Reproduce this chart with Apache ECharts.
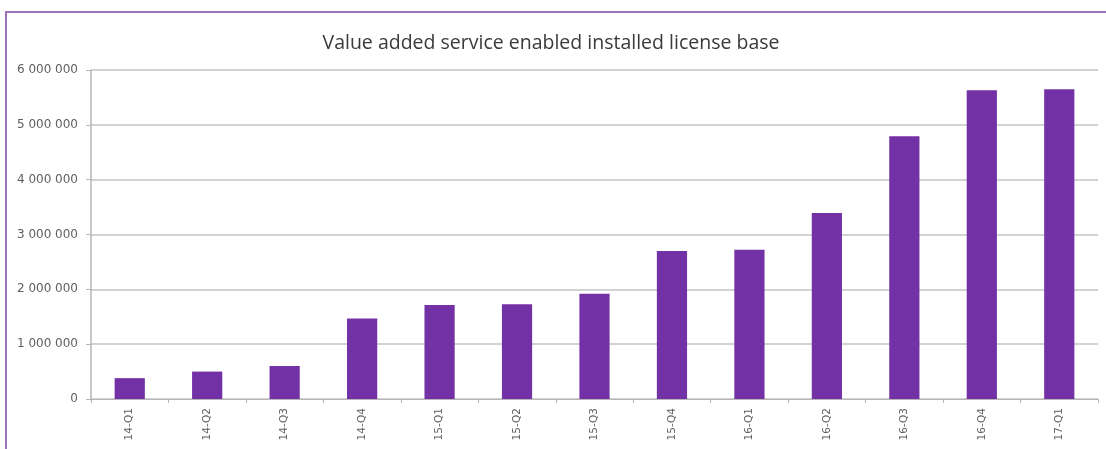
<!DOCTYPE html>
<html><head><meta charset="utf-8">
<script src="https://cdn.jsdelivr.net/npm/echarts@6/dist/echarts.min.js"></script>
<style>
html,body{margin:0;padding:0;background:#fff;}
#frame{position:absolute;left:5px;top:11px;width:1101px;height:438px;border-top:2px solid #9a72b8;border-left:2px solid #9a72b8;box-sizing:border-box;}
#chart{position:absolute;left:0;top:0;width:1106px;height:449px;}
</style></head>
<body>
<div id="frame"></div>
<div id="chart"></div>
<script>
const titleText = "Value added service enabled installed license base";
const categories = ["14-Q1","14-Q2","14-Q3","14-Q4","15-Q1","15-Q2","15-Q3","15-Q4","16-Q1","16-Q2","16-Q3","16-Q4","17-Q1"];
const licenseBase = [380000, 500000, 600000, 1470000, 1715000, 1730000, 1920000, 2700000, 2720000, 3390000, 4790000, 5630000, 5650000];
const yMin = 0, yMax = 6000000, yStep = 1000000;

const chart = echarts.init(document.getElementById('chart'), null, {renderer:'canvas'});
chart.setOption({
  backgroundColor: 'transparent',
  animation: false,
  title: {
    text: titleText, left: 546, top: 28, textAlign: 'center',
    textStyle: {fontFamily: 'Open Sans', fontSize: 19.5, fontWeight: 'normal', color: '#3a3a3a'}
  },
  grid: {left: 91, right: 8, top: 70, bottom: 50, containLabel: false},
  xAxis: {
    type: 'category', data: categories,
    axisLine: {lineStyle: {color: '#b5b5b5', width: 1}},
    axisTick: {show: true, length: 4, lineStyle: {color: '#b5b5b5'}},
    axisLabel: {rotate: 90, fontFamily: 'DejaVu Sans', fontSize: 10.5, color: '#606060', margin: 9}
  },
  yAxis: {
    type: 'value', min: yMin, max: yMax, interval: yStep,
    axisLine: {show: true, lineStyle: {color: '#b5b5b5', width: 1.5}},
    axisTick: {show: true, length: 5, lineStyle: {color: '#b5b5b5'}},
    splitLine: {lineStyle: {color: '#c4c4c4', width: 1.5}},
    axisLabel: {
      fontFamily: 'DejaVu Sans', fontSize: 12, color: '#606060', margin: 13,
      formatter: v => String(v).replace(/\B(?=(\d{3})+(?!\d))/g, ' ')
    }
  },
  series: [{
    type: 'bar', data: licenseBase, barWidth: '39%',
    itemStyle: {color: '#7331a6'}
  }]
});
</script>
</body></html>
